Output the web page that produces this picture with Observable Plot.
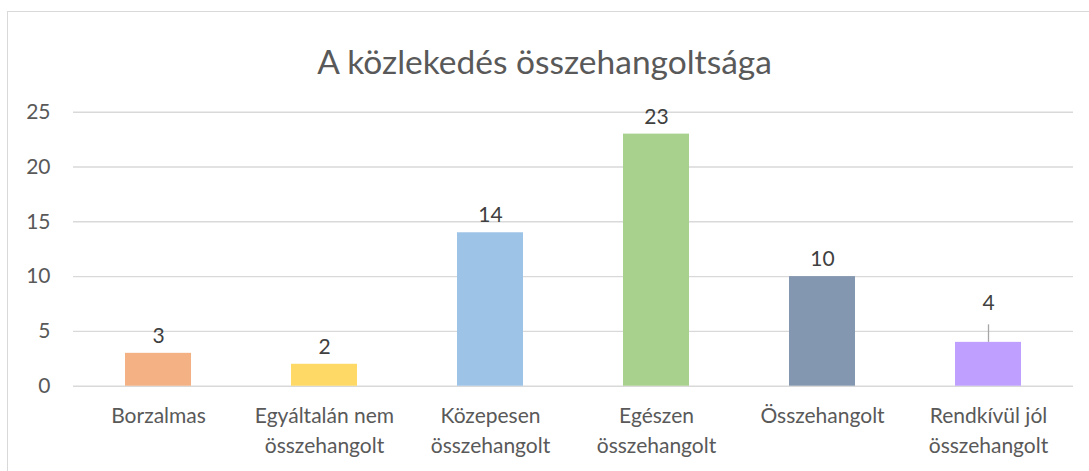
<!DOCTYPE html>
<html><head><meta charset="utf-8">
<script src="https://cdn.jsdelivr.net/npm/d3@7"></script>
<script src="https://cdn.jsdelivr.net/npm/@observablehq/plot@0.6"></script>
<style>
body{margin:0;background:#fff;font-family:Lato,sans-serif}
#wrap{position:relative;width:1089px;height:471px;overflow:hidden}
#frame{position:absolute;left:7px;top:11px;width:1200px;height:600px;border-left:1.5px solid #d9d9d9;border-top:1.5px solid #d9d9d9}
#title{position:absolute;left:0;width:1089px;top:41px;text-align:center;font-size:33.5px;line-height:40px;color:#595959}
#chart{position:absolute;left:0;top:0}
</style></head><body>
<div id="wrap"><div id="frame"></div><div id="title">A közlekedés összehangoltsága</div><div id="chart"></div></div>
<script>
const categories = ["Borzalmas", "Egyáltalán nem összehangolt", "Közepesen összehangolt", "Egészen összehangolt", "Összehangolt", "Rendkívül jól összehangolt"];
const values = [3, 2, 14, 23, 10, 4];
const colors = ["#F4B183", "#FFD966", "#9DC3E6", "#A9D18E", "#8497B0", "#BF9FFF"];
const tickLabels = ["Borzalmas", "Egyáltalán nem\nösszehangolt", "Közepesen\nösszehangolt", "Egészen\nösszehangolt", "Összehangolt", "Rendkívül jól\nösszehangolt"];
const yTicks = [0, 5, 10, 15, 20, 25];
const leaderCategories = ["Rendkívül jól összehangolt"];

const data = categories.map((c, i) => ({category: c, value: values[i], color: colors[i]}));
const plain = data.filter(d => !leaderCategories.includes(d.category));
const leadered = data.filter(d => leaderCategories.includes(d.category));

const fs = 21;
const plot = Plot.plot({
  width: 1089, height: 471,
  marginLeft: 73, marginRight: 16, marginTop: 111.7, marginBottom: 85.3,
  style: {fontFamily: "Lato, sans-serif", background: "transparent", overflow: "visible"},
  x: {domain: categories, paddingInner: 0.6, paddingOuter: 0.3, label: null},
  y: {domain: [0, 25], label: null},
  marks: [
    Plot.gridY(yTicks, {stroke: "#d9d9d9", strokeOpacity: 1, strokeWidth: 1.4}),
    Plot.barY(data, {x: "category", y: "value", fill: "color"}),
    Plot.axisY(yTicks, {tickSize: 0, tickPadding: 23, fontSize: fs, color: "#595959", label: null}),
    Plot.axisX({tickSize: 0, tickPadding: 16, fontSize: fs, color: "#595959", lineHeight: 1.42, label: null,
      tickFormat: c => tickLabels[categories.indexOf(c)]}),
    Plot.text(plain, {x: "category", y: "value", text: d => String(d.value), dy: -17, fontSize: fs, fill: "#404040"}),
    Plot.ruleX(leadered, {x: "category", y1: "value", y2: d => d.value + 1.6, stroke: "#a6a6a6", strokeWidth: 1.3}),
    Plot.text(leadered, {x: "category", y: "value", text: d => String(d.value), dy: -39, fontSize: fs, fill: "#404040"})
  ]
});
document.getElementById("chart").appendChild(plot);
</script>
</body></html>
